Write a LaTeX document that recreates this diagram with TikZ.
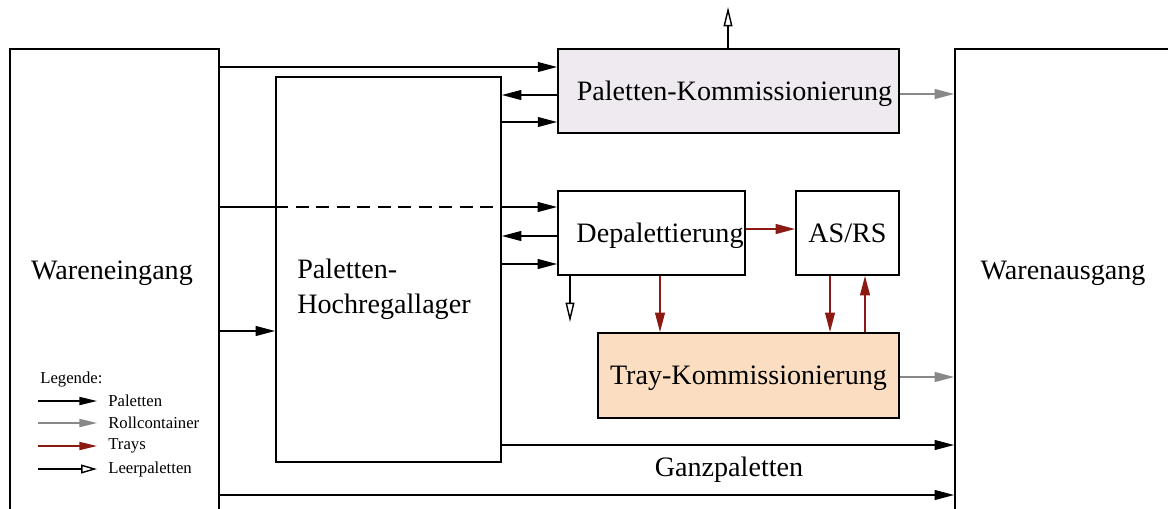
\documentclass[tikz,border=0pt]{standalone}
\usepackage{fontspec}
\setmainfont{Liberation Serif}
\usetikzlibrary{arrows.meta}

\definecolor{traycol}{HTML}{8B1A14}
\definecolor{rollcol}{HTML}{888888}
\definecolor{pkfill}{HTML}{EEEAF0}
\definecolor{trayfill}{HTML}{FBDDC2}

\tikzset{
  block/.style={draw=black, line width=1.1pt, rectangle, inner sep=0pt,
    text height=12pt, text depth=1.4pt,
    font=\fontsize{16}{20}\selectfont},
  lbl/.style={inner sep=0pt, font=\fontsize{16}{20}\selectfont},
  tipsize/.style={},
  pal/.style={draw=black, line width=0.8pt,
    -{Triangle[length=11pt, width=5.6pt]}},
  roll/.style={draw=rollcol, line width=0.8pt,
    -{Triangle[length=11pt, width=5.6pt, fill=rollcol]}},
  tray/.style={draw=traycol, line width=0.8pt,
    -{Triangle[length=11pt, width=5.6pt, fill=traycol]}},
  empty/.style={draw=black, line width=0.8pt,
    -{Triangle[open, length=11pt, width=5pt, fill=white]}},
  legpal/.style={draw=black, line width=0.8pt,
    -{Triangle[length=10pt, width=4.6pt]}},
  legroll/.style={draw=rollcol, line width=0.8pt,
    -{Triangle[length=10pt, width=4.6pt, fill=rollcol]}},
  legtray/.style={draw=traycol, line width=0.8pt,
    -{Triangle[length=10pt, width=4.6pt, fill=traycol]}},
  legempty/.style={draw=black, line width=0.8pt,
    -{Triangle[open, length=9pt, width=5pt, fill=white]}},
  leglbl/.style={anchor=west, inner sep=0pt, font=\fontsize{9.5}{11}\selectfont},
}

\begin{document}
\begin{tikzpicture}[x=0.02cm, y=-0.02cm]
  \clip (0,0) rectangle (1168,508);

  % main blocks
  \node[block, minimum width=4.18cm, minimum height=10.22cm] (we) at (114.5,304.5) {};
  \node[lbl] (weText) at (112,273) {Wareneingang};
  \node[block, minimum width=4.4cm, minimum height=10.22cm] (wa) at (1065,304.5) {};
  \node[lbl] (waText) at (1063,273) {Warenausgang};

  \node[block, minimum width=4.5cm, minimum height=7.7cm] (hrl) at (388.5,269.5) {};
  \node[lbl, anchor=west, align=left] (hrlText) at (297,289) {Paletten-\\Hochregallager};

  \node[block, fill=pkfill, minimum width=6.82cm, minimum height=1.68cm] (pk) at (728.5,91)
    {\hspace*{0.24cm}Paletten-Kommissionierung};
  \node[block, minimum width=3.74cm, minimum height=1.68cm] (dep) at (651.5,233)
    {\hspace*{0.34cm}Depalettierung};
  \node[block, minimum width=2.06cm, minimum height=1.68cm] (asrs) at (847.5,233) {AS/RS};
  \node[block, fill=trayfill, minimum width=6.02cm, minimum height=1.7cm] (tk) at (748.5,375.5)
    {Tray-Kommissionierung};

  % pallet flows
  \draw[pal] (we.east |- 0,67) -- (pk.west |- 0,67);
  \draw[pal] (pk.west |- 0,95) -- (hrl.east |- 0,95);
  \draw[pal] (hrl.east |- 0,122) -- (pk.west |- 0,122);

  \draw[black, line width=0.8pt] (we.east |- 0,207) -- (hrl.west |- 0,207);
  \draw[black, line width=0.8pt, dash pattern=on 0.26cm off 0.15cm] (hrl.west |- 0,207) -- (hrl.east |- 0,207);
  \draw[pal] (hrl.east |- 0,207) -- (dep.west |- 0,207);
  \draw[pal] (dep.west |- 0,236) -- (hrl.east |- 0,236);
  \draw[pal] (hrl.east |- 0,264) -- (dep.west |- 0,264);

  \draw[pal] (we.east |- 0,331) -- (hrl.west |- 0,331);
  \draw[pal] (hrl.east |- 0,445) -- (wa.west |- 0,445);
  \draw[pal] (we.east |- 0,495) -- (wa.west |- 0,495);
  \node[lbl] (ganz) at (729,470) {Ganzpaletten};

  % empty pallets
  \coordinate (pkOut) at (728,7);
  \draw[empty] (pk.north -| 728,0) -- (pkOut);
  \coordinate (depOut) at (570,322);
  \draw[empty] (dep.south -| 570,0) -- (depOut);

  % roll containers
  \draw[roll] (pk.east |- 0,94) -- (wa.west |- 0,94);
  \draw[roll] (tk.east |- 0,377) -- (wa.west |- 0,377);

  % trays
  \draw[tray] (dep.east |- 0,229) -- (asrs.west |- 0,229);
  \draw[tray] (dep.south -| 660,0) -- (tk.north -| 660,0);
  \draw[tray] (asrs.south -| 830,0) -- (tk.north -| 830,0);
  \draw[tray] (tk.north -| 865,0) -- (asrs.south -| 865,0);

  % legend
  \node[leglbl] (legTitle) at (40,379) {Legende:};
  \coordinate (l1a) at (38,401); \coordinate (l1b) at (97,401);
  \coordinate (l2a) at (38,423); \coordinate (l2b) at (97,423);
  \coordinate (l3a) at (38,446); \coordinate (l3b) at (97,446);
  \coordinate (l4a) at (38,469); \coordinate (l4b) at (97,469);
  \draw[legpal] (l1a) -- (l1b);
  \draw[legroll] (l2a) -- (l2b);
  \draw[legtray] (l3a) -- (l3b);
  \draw[legempty] (l4a) -- (l4b);
  \node[leglbl] (leg1) at (108,401) {Paletten};
  \node[leglbl] (leg2) at (108,423) {Rollcontainer};
  \node[leglbl] (leg3) at (108,446) {Trays};
  \node[leglbl] (leg4) at (108,469) {Leerpaletten};
\end{tikzpicture}
\end{document}
